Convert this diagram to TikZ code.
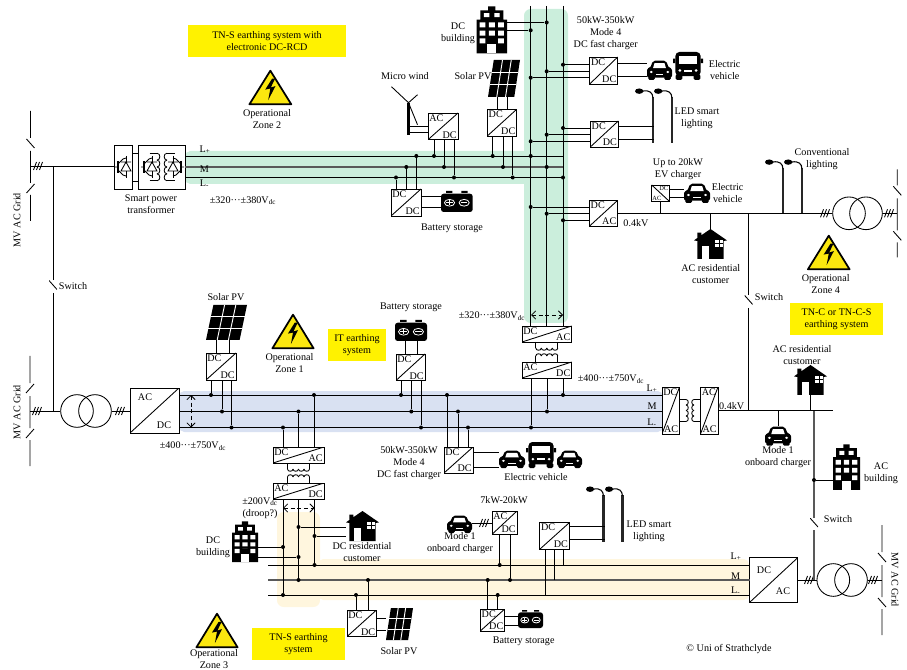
\documentclass[tikz,border=0pt]{standalone}
\usepackage{fontspec}
\setmainfont{Liberation Serif}
\usetikzlibrary{positioning,arrows.meta,fit,calc}

\definecolor{barGreen}{HTML}{CBEEDC}
\definecolor{barBlue}{HTML}{D9E1F2}
\definecolor{barSand}{HTML}{FFF6DE}
\definecolor{signYellow}{HTML}{FBE70F}

% icons are drawn in a 100 x 100 frame
\tikzset{
  pics/car/.style={code={
    \fill[black, rounded corners=1.5pt] (0,42) -- (12,42) -- (24,3) -- (76,3) -- (88,42) -- (100,42) -- (100,88) -- (0,88) -- cycle;
    \fill[black, rounded corners=1pt] (5,80) rectangle (31,100) (69,80) rectangle (95,100);
    \fill[white] (30,16) -- (70,16) -- (76,41) -- (24,41) -- cycle;
    \fill[white] (17,60) circle (6) (83,60) circle (6);
    \fill[white] (36,70) rectangle (64,76);
  }},
  pics/coach/.style={code={
    \fill[black, rounded corners=3pt] (8,0) rectangle (92,86);
    \fill[black] (0,24) rectangle (8,40) (92,24) rectangle (100,40);
    \fill[black, rounded corners=1pt] (9,80) rectangle (31,100) (69,80) rectangle (91,100);
    \fill[white] (19,14) rectangle (81,44);
    \fill[white] (23,66) circle (5) (77,66) circle (5);
    \fill[white] (38,63) rectangle (62,71);
  }},
  pics/house/.style={code={
    \fill[black] (50,0) -- (100,38) -- (90,40) -- (90,100) -- (10,100) -- (10,40) -- (0,38) -- (10,30) -- (10,12) -- (22,12) -- (22,21) -- cycle;
    \fill[white] (24,58) rectangle (45,100);
    \fill[white] (64,38) rectangle (88,60);
    \draw[black, line width=.5pt] (76,38) -- (76,60) (64,49) -- (88,49);
  }},
  pics/tower/.style={code={
    \fill[black] (0,30) -- (12,30) -- (12,11) -- (38,11) -- (38,3) -- (62,3) -- (62,11) -- (88,11) -- (88,30) -- (100,30) -- (100,100) -- (0,100) -- cycle;
    \fill[white] (24,17) rectangle (42,25) (58,17) rectangle (76,25);
    \foreach \wy in {36,53,69}{
      \fill[white] (10,\wy) rectangle (29,{\wy+10}) (40,\wy) rectangle (60,{\wy+10}) (71,\wy) rectangle (90,{\wy+10});
    }
    \fill[black] (33,68) rectangle (67,82);
    \fill[white] (35,81) rectangle (65,100);
  }},
  pics/panel/.style={code={
    \fill[black] (18,0) -- (100,0) -- (82,100) -- (0,100) -- cycle;
    \foreach \pt in {.333,.667}{
      \draw[white, line width=.7pt] ({18+82*\pt},0) -- ({82*\pt},100);
      \draw[white, line width=.7pt] ({18*(1-\pt)},{100*\pt}) -- ({18*(1-\pt)+82},{100*\pt});
    }
  }},
  pics/battery/.style={code={
    \fill[black] (16,0) rectangle (36,9) (64,0) rectangle (84,9);
    \fill[black, rounded corners=2pt] (0,13) rectangle (100,100);
    \draw[white, line width=.6pt] (27,56) circle (16) (73,56) circle (16);
    \draw[white, line width=.6pt] (17,56) -- (37,56) (27,43) -- (27,69) (63,56) -- (83,56);
  }},
  pics/lamp/.style={code={
    \fill[black!85] (88,15) rectangle (100,100);
    \draw[black, line width=.8pt] (94,16) .. controls (94,8) and (78,1) .. (40,4);
    \fill[black] (22,4) ellipse (22 and 5);
  }},
  pics/hazard/.style={code={
    \fill[signYellow, draw=black, line width=1.3pt, line join=round] (50,2) -- (99,98) -- (1,98) -- cycle;
    \fill[black] (54,25) -- (38,56) -- (50,53) -- (45,86) -- (62,46) -- (51,50) -- (61,25) -- cycle;
  }},
  pics/galv/.style={code={
    \foreach \gs in {-1,1}{
      \draw[wire] (-11,{\gs*#1}) -- (-11,{\gs*4}) (11,{\gs*#1}) -- (11,{\gs*4});
      \foreach \gk in {0,1,2,3}{
        \draw[wire] ({-11+5.5*\gk},{\gs*4}) .. controls ({-11+5.5*\gk},{\gs*1}) and ({-5.5+5.5*\gk},{\gs*1}) .. ({-5.5+5.5*\gk},{\gs*4});
      }
    }
  }},
  pics/mvrail/.style n args={3}{code={
    \draw[wire] (0,{-#3}) -- (0,-28) ({-4*#1},-27) -- ({4*#1},-18) (0,-15) -- (0,17) ({-4*#2},18) -- ({4*#2},27) (0,29) -- (0,#3);
  }},
  pics/ticks/.style={code={
    \foreach \tk in {-3,0,3}{
      \draw[wire] ({\tk-1.5},4) -- ({\tk+1.5},-4);
    }
  }},
  pics/bridge/.style={code={
    \draw[wire] (1,-11) -- (1,11);
    \fill[white] (-4,4) -- (6,4) -- (1,-5) -- cycle;
    \draw[wire] (-4,4) -- (6,4) -- (1,-5) -- cycle (-4,-5) -- (6,-5);
    \draw[wire, line width=1pt] (-7,-6) -- (-7,6);
    \draw[wire] (-7,-3) -- (-2,-8) -- (1,-9) (-7,3) -- (-2,8) -- (1,9) (-10,0) -- (-7,0);
  }},
}

\begin{document}
\begin{tikzpicture}[
    x=0.75pt, y=-0.75pt,
    font=\fontsize{7.6}{9}\selectfont,
    wire/.style={line width=.65pt, black},
    midwire/.style={line width=1pt, black!65},
    lbl/.style={align=center, inner sep=0pt},
    dot/.style={circle, fill=black, inner sep=0pt, minimum size=3pt},
    iconbox/.style={inner sep=0pt},
    xfmr/.style={circle, draw, line width=.65pt, inner sep=0pt, minimum size=24.5pt},
    tagbox/.style={fill=yellow, align=center, inner sep=0pt},
    spanarrow/.style={{Straight Barb[length=1.1mm]}-{Straight Barb[length=1.1mm]}, densely dashed, line width=.55pt},
    swnode/.style={inner sep=0pt, minimum width=6pt, minimum height=9pt,
      path picture={\draw[wire] (path picture bounding box.north west) -- ($(path picture bounding box.north east)!.75!(path picture bounding box.south east)$);}},
    conv/.style 2 args={draw, fill=white, line width=.7pt, inner sep=0pt,
      path picture={\draw[wire] (path picture bounding box.south west) -- (path picture bounding box.north east);},
      label={[lbl, inner sep=1.2pt, anchor=north west]north west:#1},
      label={[lbl, inner sep=1.2pt, anchor=south east]south east:#2}},
    convflip/.style={draw, fill=white, line width=.7pt, inner sep=0pt,
      path picture={\draw[wire] (path picture bounding box.north west) -- (path picture bounding box.south east);}},
  ]
  \useasboundingbox (0,0) rectangle (907,670);

  % coloured bus bands
  \fill[barGreen, rounded corners=4pt] (185,151) rectangle (530,184);
  \fill[barGreen, rounded corners=5pt] (524,9) rectangle (568,323);
  \fill[barBlue, rounded corners=4pt] (179,391) rectangle (663,432);
  \fill[barSand, rounded corners=5pt] (277,512) rectangle (320,607);
  \fill[barSand, rounded corners=4pt] (318,559) rectangle (749,600);

  % converters
  \foreach \cn/\xa/\ya/\xb/\yb/\ct/\cb in {
      wind/428/113/458/139.7/AC/DC, batB/391/189/421/216/DC/DC, pvB/487.3/109.3/516.7/136/DC/DC,
      fastB/589.7/57/617.7/84/DC/DC, ledB/590.3/121/618.3/147/DC/DC, invB/589.3/200.3/617.7/226.3/DC/AC,
      pvA/206/353/236/380/DC/DC, batA/396/354/425/380.5/DC/DC, fastA/444/447/473/473/DC/DC,
      pvC/347/610/376.5/636.6/DC/DC, batC/480.3/609/504.7/631/DC/DC, ledC/539.7/522.7/569.3/549.3/DC/DC,
      obcC/492/511/517/534.3/AC/DC, isoBa/522/326/571.7/342/DC/AC, isoBb/522/362/571.7/378/AC/DC,
      isoCa/273/447/324/463/DC/AC, isoCb/273/483/324/499/AC/DC, isoAa/662/387/679.5/434/DC/AC,
      isoAb/700.5/387/718/434/AC/AC, mainA/130/388/179/433/{}/{}, mainC/749.7/557.7/797.7/602.3/{}/{}}{
    \node[conv={\ct}{\cb}, fit={(\xa,\ya) (\xb,\yb)}] (\cn) {};
  }
  \node[convflip, fit={(651.7,185) (669,201)}] (evc) {};
  \node[lbl, font=\fontsize{4.8}{5}\selectfont, anchor=north east] (evcT) at (668.5,185.5) {DC};
  \node[lbl, font=\fontsize{4.8}{5}\selectfont, anchor=south west] (evcB) at (652.2,200.5) {AC};

  % smart power transformer
  \node[draw, line width=.7pt, fit={(114,145) (132,189)}, inner sep=0pt] (spA) {};
  \node[draw, line width=.7pt, fit={(138,145) (185,189)}, inner sep=0pt] (spB) {};
  \draw[wire] (spA.east |- 0,153) -- (spB.west |- 0,153) (spA.east |- 0,181) -- (spB.west |- 0,181);
  \pic at (125,167) {bridge};
  \pic at (151,167) {bridge};
  \pic[xscale=-1] at (174,167) {bridge};
  \pic[rotate=90, scale=1.25] at (162,167) {galv=10};

  % transformers
  \foreach \tn/\tx/\ty in {xfAa/77/411, xfAb/95/411, xfBa/849/213.3, xfBb/866/213.3, xfCa/833.3/580, xfCb/851/580}{
    \node[xfmr] (\tn) at (\tx,\ty) {};
  }

  % grid rails
  \coordinate (gridA) at (30.5,166);
  \coordinate (gridB) at (30,411);
  \coordinate (gridC) at (882,580);
  \coordinate (gridD) at (897.3,213.3);
  \pic at (gridA) {mvrail={1}{-1}{55}};
  \pic at (gridB) {mvrail={-1}{-1}{55}};
  \pic at (gridC) {mvrail={1}{1}{55}};
  \pic at (gridD) {mvrail={1}{1}{44}};
  \draw[wire] (gridA) -- (spA.west |- gridA);
  \draw[wire] (gridB) -- (xfAa.west) (xfAb.east) -- (mainA.west |- xfAb.east);
  \draw[wire] (invB.east) -- (xfBa.west) (xfBb.east) -- (gridD);
  \draw[wire] (mainC.east) -- (xfCa.west) (xfCb.east) -- (gridC);
  \foreach \tx/\ty in {38/166, 120/411, 37/411, 825/213.3, 889/213.3, 809/580, 873/580, 484/523}{
    \pic at (\tx,\ty) {ticks};
  }

  % buses
  \foreach \bn/\xa/\xb/\by/\bs in {
      lpB/185/563/156/wire, mdB/185/563/167/midwire, lmB/185/563/177.5/wire,
      lpA/179/662/395/wire, mdA/179/662/411.5/wire, lmA/179/662/427.5/wire,
      lpC/268/749.7/565/wire, mdC/268/749.7/580/midwire, lmC/268/749.7/595/wire}{
    \coordinate (\bn s) at (\xa,\by);
    \coordinate (\bn e) at (\xb,\by);
    \draw[\bs] (\bn s) -- (\bn e);
  }
  \foreach \vn/\vx in {vA/530.7, vB/546.7, vC/563}{
    \coordinate (\vn) at (\vx,6);
    \draw[wire] (\vn) -- (\vn |- isoBa.north);
  }
  \foreach \vn/\vx/\vy in {uA/283/595, uB/298.5/580, uC/314.5/565}{
    \node[dot] (\vn) at (\vx,\vy) {};
    \draw[wire] (\vn) -- (\vn |- isoCb.south);
  }
  \foreach \vn/\vx/\vy in {jA/530.7/156, jB/546.7/167, jC/563/177.5}{
    \node[dot] (\vn) at (\vx,\vy) {};
  }

  % taps onto the buses
  \foreach \dn/\dx/\dy/\db in {
      tA/434/156/wind.south, tB/444/167/wind.south, tC/454/177.5/wind.south,
      tD/396/177.5/batB.north, tE/406.3/167/batB.north, tF/416.3/156/batB.north,
      tG/492.7/156/pvB.south, tH/503/167/pvB.south, tI/512.7/177.5/pvB.south,
      tJ/211/395/pvA.south, tK/222/411.5/pvA.south, tL/231.5/427.5/pvA.south,
      tM/401/395/batA.south, tN/411.3/411.5/batA.south, tO/421/427.5/batA.south,
      tP/447/395/fastA.north, tQ/458/411.5/fastA.north, tR/468/427.5/fastA.north,
      tS/283/427.5/isoCa.north, tT/298.5/411.5/isoCa.north, tU/314/395/isoCa.north,
      tV/531/427.5/isoBb.south, tW/547/411.5/isoBb.south, tX/563/395/isoBb.south,
      tY/499.7/565/obcC.south, tZ/510/580/obcC.south,
      uD/487.7/580/batC.north, uE/497.7/595/batC.north, uF/356/595/pvC.north, uG/368/580/pvC.north}{
    \node[dot] (\dn) at (\dx,\dy) {};
    \draw[wire] (\dn) -- (\dn |- \db);
  }
  \foreach \dn/\dx/\dy in {lC/545.3/595, lB/554.3/580, lA/563.3/565}{
    \coordinate (\dn) at (\dx,\dy);
    \draw[wire] (\dn) -- (\dn |- ledC.south);
  }

  % icons
  \foreach \ia/\ik/\xa/\ya/\xb/\yb in {
      bldB/tower/476.7/5/507/53.5, bldC/tower/232/520/258/562, bldD/tower/833/443/860/490,
      hseB/house/694/229/727/259, hseC/house/346/511/379/541, hseD/house/794/365/827/395,
      panB/panel/488/60/520/97, panA/panel/206/305/247/340, panC/panel/386/608/413/640,
      carB/car/647/60/672/80, coaB/coach/673/52/703/80, carE/car/684/183/710/203,
      carA/car/499/450/525/468, coaA/coach/526/442/556/468, carF/car/557/450/582/468,
      carG/car/765/426/791/445.7, carH/car/447/515/472/533,
      battB/battery/441/191/472.7/212, battA/battery/395/320/427/341, battC/battery/518/610/543/628,
      lmpB/lamp/635/89/654/143, lmpBb/lamp/654/89/673/143, lmpE/lamp/765/160/784/213, lmpEb/lamp/784/160/803/213,
      lmpC/lamp/586/487/604.5/541.7, lmpCb/lamp/605/487/623.5/541.7,
      zonB/hazard/249/70/291.7/105, zonA/hazard/272/314/314/349, zonC/hazard/196/613/238/648, zonD/hazard/807.5/235/850/270}{
    \node[iconbox, fit={(\xa,\ya) (\xb,\yb)}] (\ia) {};
    \pic[xscale={(\xb-\xa)/100}, yscale={(\yb-\ya)/100}] at (\xa,\ya) {\ik};
  }
  % wind turbine
  \node[fill=black, inner sep=0pt, fit={(407,103) (410,135)}] (mast) {};
  \draw[wire] (mast.north) -- ++(-17,-16) (mast.north) -- ++(9,-8) (mast.north) -- ++(9,22);

  % branches off the vertical buses
  \foreach \dn/\dx/\dy/\db in {
      bA/546.7/22.5/bldB.east, bB/530.7/30.3/bldB.east,
      bC/563/64.7/fastB.west, bD/546.7/71.3/fastB.west, bE/530.7/77.7/fastB.west,
      bF/563/128/ledB.west, bG/546.7/134.7/ledB.west, bH/530.7/141.3/ledB.west,
      bI/530.7/207/invB.west, bJ/546.7/213.7/invB.west, bK/563/220.3/invB.west,
      bL/283/547/bldC.east, bM/298.5/557/bldC.east,
      bN/298.5/527/hseC.west, bO/314.5/536/hseC.west}{
    \node[dot] (\dn) at (\dx,\dy) {};
    \draw[wire] (\dn) -- (\dn -| \db);
  }

  % short links between converters and loads
  \foreach \sa/\sb/\sy in {
      wind.west/mast.east/126, wind.west/mast.east/132, batB.east/battB.west/196, batB.east/battB.west/207.7,
      fastB.east/carB.west/63.3, fastB.east/carB.west/76, ledB.east/lmpB.east/126.7, ledB.east/lmpB.east/139.3,
      fastA.east/carA.west/452, fastA.east/carA.west/467, ledC.east/lmpC.east/526.7, ledC.east/lmpC.east/539,
      pvC.east/panC.west/618, pvC.east/panC.west/630, batC.east/battC.west/616.7, batC.east/battC.west/625.7,
      evc.east/carE.west/189, evc.east/carE.west/197, carH.east/obcC.west/523}{
    \draw[wire] (\sa |- 0,\sy) -- (\sb |- 0,\sy);
  }
  \foreach \sa/\sb/\sx in {
      pvB.north/panB.south/497, pvB.north/panB.south/507, pvA.north/panA.south/216, pvA.north/panA.south/229,
      batA.north/battA.south/405, batA.north/battA.south/417}{
    \draw[wire] (\sx,0 |- \sa) -- (\sx,0 |- \sb);
  }

  % isolation stages
  \pic at (546.8,352) {galv=10};
  \pic at (298.5,473) {galv=10};
  \pic[rotate=90] at (690,410.5) {galv=11};

  % low voltage side, zone 1
  \coordinate (lvS) at (748.7,410.5);
  \coordinate (lvE) at (833,410.5);
  \node[swnode] (swA) at (53,286.5) {};
  \node[swnode] (swB) at (748.7,301.5) {};
  \node[swnode] (swC) at (814,524) {};
  \draw[wire] (isoAb.east) -- (lvE);
  \draw[wire] (swB.north) -- (swB.north |- invB.east) (swB.south) -- (lvS);
  \draw[wire] (swA.north) -- (swA.north |- gridA) (swA.south) -- (swA.south |- gridB);
  \draw[wire] (hseD.south) -- (hseD.south |- lvE);
  \draw[wire] (carG.north) -- (carG.north |- lvE);
  \draw[midwire] (swC.north) -- (swC.north |- lvE) (swC.south) -- (swC.south |- mainC.east);
  \node[dot] (bP) at (814,480) {};
  \draw[wire] (bP) -- (bP -| bldD.west);
  \draw[wire] (evc.south) -- (evc.south |- invB.east);
  \draw[wire] (hseB.north) -- (hseB.north |- invB.east);

  % voltage spans
  \coordinate (spNa) at (191,395);
  \coordinate (spNb) at (191,427.5);
  \coordinate (spGa) at (531,315);
  \coordinate (spGb) at (563,315);
  \coordinate (spSa) at (283,508);
  \coordinate (spSb) at (314.5,508);
  \draw[spanarrow] (spNa) -- (spNb);
  \draw[spanarrow] (spGa) -- (spGb);
  \draw[spanarrow] (spSa) -- (spSb);

  % earthing notes
  \node[tagbox, minimum width=118.5pt, minimum height=24pt] (tagB) at (267,41) {TN-S earthing system with\\electronic DC-RCD};
  \node[tagbox, minimum width=43.5pt, minimum height=24pt] (tagA) at (357,345) {IT earthing\\system};
  \node[tagbox, minimum width=70pt, minimum height=24pt] (tagD) at (836.5,319) {TN-C or TN-C-S\\earthing system};
  \node[tagbox, minimum width=70pt, minimum height=24pt] (tagC) at (298.5,644) {TN-S earthing\\system};

  % texts
  \foreach \ln/\lx/\ly/\lt in {
      lZoneB/267/119/{Operational\\Zone 2}, lZoneA/289.5/363/{Operational\\Zone 1},
      lZoneC/214/659.5/{Operational\\Zone 3}, lZoneD/825.7/284/{Operational\\Zone 4},
      lSmart/151/204/{Smart power\\transformer}, lWind/405/76/{Micro wind}, lBatB/452/228/{Battery storage},
      lPvB/473/76/{Solar PV}, lBldB/458/33/{DC\\building}, lFastB/605.7/33.5/{50kW-350kW\\Mode 4\\DC fast charger},
      lEvB/724.7/70/{Electric\\vehicle}, lLedB/697/118/{LED smart\\lighting}, lInvB/636/223/{0.4kV},
      lEvc/678/168.7/{Up to 20kW\\EV charger}, lEvE/727.7/193/{Electric\\vehicle}, lConv/822/159.5/{Conventional\\lighting},
      lHseB/710.7/274/{AC residential\\customer}, lSwB/769/297/{Switch}, lSwA/73/286/{Switch}, lSwC/838/519/{Switch},
      lVolB/243/201/{±320···±380V\textsubscript{dc}}, lVolG/492/316/{±320···±380V\textsubscript{dc}},
      lVolA/193/446/{±400···±750V\textsubscript{dc}}, lVolR/611/379/{±400···±750V\textsubscript{dc}},
      lVolS/260/508/{±200V\textsubscript{dc}\\(droop?)},
      lLpB/205/150/{L\textsubscript{+}}, lMB/204.5/169/{M}, lLmB/204.5/184/{L\textsubscript{-}},
      lLpA/652/389/{L\textsubscript{+}}, lMA/652/406/{M}, lLmA/652/423/{L\textsubscript{-}},
      lLpC/736/557/{L\textsubscript{+}}, lMC/735.7/576/{M}, lLmC/735.7/591/{L\textsubscript{-}},
      lPvA/226/297/{Solar PV}, lBatA/411/307/{Battery storage}, lFastA/409/463/{50kW-350kW\\Mode 4\\DC fast charger},
      lEvA/536/477/{Electric vehicle}, lModeD/778/457/{Mode 1\\onboard charger}, lKv/731.7/406/{0.4kV},
      lHseD/802/355/{AC residential\\customer}, lBldD/881/473/{AC\\building}, lBldC/213/547.5/{DC\\building},
      lHseC/362/552/{DC residential\\customer}, lPvC/399/651/{Solar PV}, lModeH/460/543/{Mode 1\\onboard charger},
      lObc/504/499.6/{7kW-20kW}, lLedC/649/531/{LED smart\\lighting}, lBatC/523.7/641/{Battery storage},
      lCopy/729/649/{© Uni of Strathclyde}, lAcA/145/397/{AC}, lDcA/164/425/{DC}, lDcC/764/570/{DC}, lAcC/783/591/{AC}}{
    \node[lbl] (\ln) at (\lx,\ly) {\lt};
  }
  \node[lbl, rotate=90] (lGridA) at (17,220) {MV AC Grid};
  \node[lbl, rotate=90] (lGridB) at (17,412) {MV AC Grid};
  \node[lbl, rotate=-90] (lGridC) at (895,580) {MV AC Grid};
\end{tikzpicture}
\end{document}
